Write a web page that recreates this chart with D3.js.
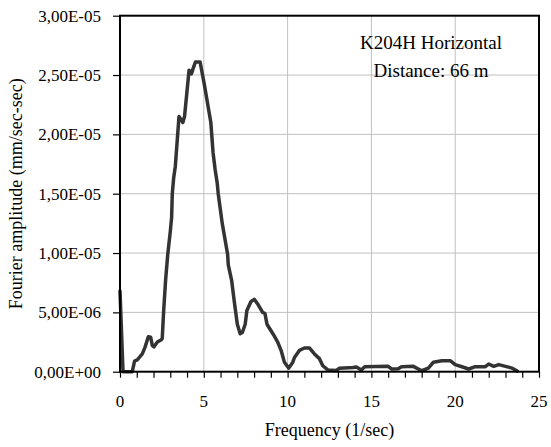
<!DOCTYPE html>
<html>
<head>
<meta charset="utf-8">
<script src="https://cdn.jsdelivr.net/npm/d3@7"></script>
<style>
  html, body { margin: 0; padding: 0; background: #fff; }
  svg { display: block; }
  text { font-family: "Liberation Serif", "Times New Roman", serif; fill: #000; }
</style>
</head>
<body>
<svg id="chart" width="551" height="447"></svg>
<script>
// Frequency (1/sec)
const freq = [0, 0.18, 0.5, 0.73, 0.87, 1.03, 1.33, 1.49, 1.69, 1.83, 1.93, 2.03, 2.23, 2.47, 2.52,
  2.6, 2.72, 2.85, 3.0, 3.08, 3.12, 3.2, 3.3, 3.52, 3.75, 3.85, 4.12, 4.26, 4.35, 4.5, 4.78,
  5.02, 5.42, 5.55, 5.68, 5.8, 5.86, 6.1, 6.42, 6.46, 6.66, 6.81, 7.0, 7.17, 7.3, 7.47, 7.57,
  7.81, 8.01, 8.22, 8.51, 8.65, 8.77, 9.01, 9.21, 9.41, 9.61, 9.81, 10.07, 10.31, 10.41, 10.71,
  11.0, 11.3, 11.6, 11.9, 12.1, 12.4, 12.9, 13.1, 13.9, 14.1, 14.4, 14.6, 16.0, 16.2, 16.6,
  16.8, 17.5, 18.0, 18.4, 18.7, 19.2, 19.7, 20.0, 20.4, 20.8, 21.2, 21.8, 22.0, 22.3, 22.6,
  23.0, 23.4, 23.7];
// Fourier amplitude, in units of 1E-06 mm/sec-sec
const amplitude = [6.8, 0, 0, 0, 0.9, 1.0, 1.5, 2.05, 2.95, 2.9, 2.2, 2.1, 2.5, 2.7, 2.8,
  5.0, 7.7, 9.9, 11.8, 13.0, 15.0, 16.3, 17.3, 21.5, 21.0, 21.5, 25.4, 25.1, 25.5, 26.1, 26.1,
  24.3, 21.0, 18.5, 17.0, 15.9, 15.0, 12.5, 9.9, 9.0, 7.7, 6.0, 4.0, 3.2, 3.3, 4.0, 5.15,
  5.9, 6.1, 5.7, 5.0, 4.9, 4.0, 3.45, 3.0, 2.5, 1.8, 0.8, 0.3, 0.8, 1.2, 1.8,
  2.0, 2.0, 1.5, 1.1, 0.5, 0.15, 0.1, 0.3, 0.35, 0.4, 0.15, 0.42, 0.45, 0.23, 0.25,
  0.42, 0.45, 0.08, 0.3, 0.8, 0.93, 0.93, 0.6, 0.42, 0.23, 0.42, 0.42, 0.65, 0.45, 0.6,
  0.45, 0.3, 0.05];

const xTicks = [0, 5, 10, 15, 20, 25];
const xTickLabels = ["0", "5", "10", "15", "20", "25"];
const xMinorTicks = d3.range(0, 26, 1);
const yTicks = [0, 5e-6, 1e-5, 1.5e-5, 2e-5, 2.5e-5, 3e-5];
const yTickLabels = ["0,00E+00", "5,00E-06", "1,00E-05", "1,50E-05", "2,00E-05", "2,50E-05", "3,00E-05"];
const xTitle = "Frequency (1/sec)";
const yTitle = "Fourier amplitude (mm/sec-sec)";
const annotation = ["K204H Horizontal", "Distance: 66 m"];

const svg = d3.select("#chart");
const pLeft = 120, pRight = 539, pTop = 15.7, pBottom = 371.7;

const x = d3.scaleLinear().domain([0, 25]).range([pLeft, pRight]);
const y = d3.scaleLinear().domain([0, 3e-5]).range([pBottom, pTop]);

// gridlines
svg.append("g").selectAll("line").data(xTicks.filter(d => d > 0 && d < 25)).join("line")
  .attr("x1", d => x(d)).attr("x2", d => x(d))
  .attr("y1", pTop).attr("y2", pBottom)
  .attr("stroke", "#c0c0c0").attr("stroke-width", 1);
svg.append("g").selectAll("line").data(yTicks.filter(d => d > 0 && d < 3e-5)).join("line")
  .attr("x1", pLeft).attr("x2", pRight)
  .attr("y1", d => y(d)).attr("y2", d => y(d))
  .attr("stroke", "#c0c0c0").attr("stroke-width", 1);

// data line
const data = freq.map((f, i) => ({ f, a: amplitude[i] * 1e-6 }));
const line = d3.line().x(d => x(d.f)).y(d => y(d.a));
svg.append("path").datum(data)
  .attr("d", line)
  .attr("fill", "none")
  .attr("stroke", "#333333")
  .attr("stroke-width", 3.5)
  .attr("stroke-linejoin", "round")
  .attr("stroke-linecap", "round");

// frame
svg.append("rect")
  .attr("x", pLeft).attr("y", pTop)
  .attr("width", pRight - pLeft).attr("height", pBottom - pTop)
  .attr("fill", "none").attr("stroke", "#000").attr("stroke-width", 2);

// x axis
const xAxis = d3.axisBottom(x).tickValues(xMinorTicks).tickSize(6).tickFormat("");
const gx = svg.append("g").attr("transform", `translate(0,${pBottom})`).call(xAxis);
gx.select(".domain").remove();
gx.selectAll(".tick line").attr("stroke", "#000").attr("stroke-width", 1.2);

svg.append("g").selectAll("text").data(xTicks).join("text")
  .attr("x", d => x(d)).attr("y", 406.5)
  .attr("text-anchor", "middle")
  .attr("font-size", 17)
  .text((d, i) => xTickLabels[i]);

// y axis
const yAxis = d3.axisLeft(y).tickValues(yTicks).tickSize(7).tickFormat("");
const gy = svg.append("g").attr("transform", `translate(${pLeft},0)`).call(yAxis);
gy.select(".domain").remove();
gy.selectAll(".tick line").attr("stroke", "#000").attr("stroke-width", 1.2);

svg.append("g").selectAll("text").data(yTicks).join("text")
  .attr("x", 101).attr("y", d => y(d))
  .attr("dy", "0.35em")
  .attr("text-anchor", "end")
  .attr("font-size", 17)
  .text((d, i) => yTickLabels[i]);

// titles
svg.append("text")
  .attr("x", (pLeft + pRight) / 2).attr("y", 436)
  .attr("text-anchor", "middle").attr("font-size", 18)
  .text(xTitle);
svg.append("text")
  .attr("transform", `translate(22,${(pTop + pBottom) / 2}) rotate(-90)`)
  .attr("text-anchor", "middle").attr("font-size", 18)
  .text(yTitle);

// annotation
svg.append("g").selectAll("text").data(annotation).join("text")
  .attr("x", 431).attr("y", (d, i) => 49 + i * 27.5)
  .attr("text-anchor", "middle").attr("font-size", 19)
  .text(d => d);
</script>
</body>
</html>
